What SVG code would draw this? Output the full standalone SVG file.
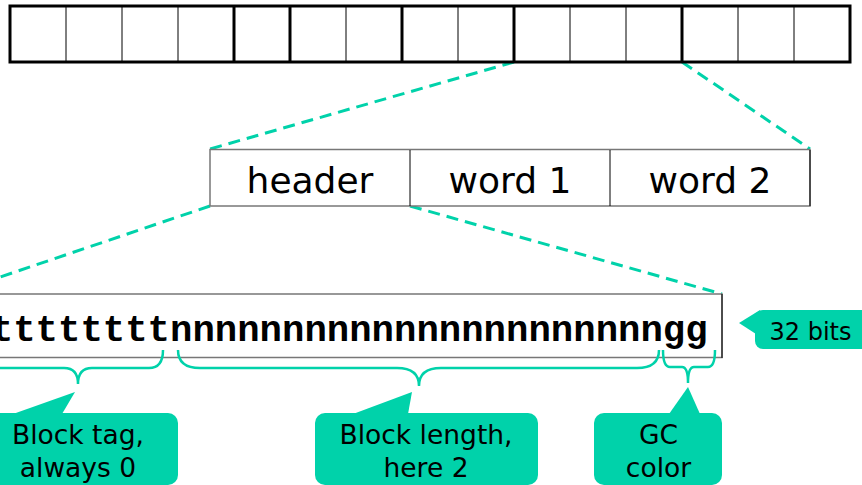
<svg xmlns="http://www.w3.org/2000/svg" width="862" height="485" viewBox="0 0 862 485">
<style>
.dash{fill:none;stroke:#00D2AA;stroke-width:3;stroke-dasharray:12 7}
.thin{stroke:#000;stroke-width:1}
.thick{stroke:#000;stroke-width:3}
.lbl{font-family:"DejaVu Sans",Verdana,sans-serif;font-size:36px;fill:#000;text-anchor:middle}
.call{fill:#00D2AA}
.ct{font-family:"DejaVu Sans",Verdana,sans-serif;font-size:26.5px;fill:#000;text-anchor:middle}
.brace{fill:none;stroke:#00D2AA;stroke-width:2.5}
.bits{font-family:"Liberation Mono","Courier New",monospace;font-weight:bold;font-size:37.33px;fill:#000}
</style>
<rect width="862" height="485" fill="#fff"/>
<g id="connectors">
<line class="dash" x1="514" y1="62" x2="210" y2="149"/>
<line class="dash" x1="682" y1="62" x2="810" y2="149"/>
<line class="dash" x1="210" y1="206" x2="-50" y2="294"/>
<line class="dash" x1="410" y1="206" x2="722" y2="294"/>
</g>
<g id="memory">
<rect x="10" y="6" width="840" height="56" fill="#fff" stroke="#000" stroke-width="3"/>
<g class="thin">
<line x1="66" y1="6" x2="66" y2="62"/><line x1="122" y1="6" x2="122" y2="62"/><line x1="178" y1="6" x2="178" y2="62"/>
<line x1="346" y1="6" x2="346" y2="62"/><line x1="458" y1="6" x2="458" y2="62"/><line x1="570" y1="6" x2="570" y2="62"/>
<line x1="626" y1="6" x2="626" y2="62"/><line x1="738" y1="6" x2="738" y2="62"/><line x1="794" y1="6" x2="794" y2="62"/>
</g>
<g class="thick">
<line x1="234" y1="6" x2="234" y2="62"/><line x1="290" y1="6" x2="290" y2="62"/><line x1="402" y1="6" x2="402" y2="62"/>
<line x1="514" y1="6" x2="514" y2="62"/><line x1="682" y1="6" x2="682" y2="62"/>
</g>
</g>
<g id="block">
<rect x="210" y="149.5" width="600" height="56.5" fill="#fff" stroke="#777" stroke-width="1.5"/>
<line class="thin" x1="410" y1="150" x2="410" y2="206"/>
<line class="thin" x1="610" y1="150" x2="610" y2="206"/>
<line class="thin" x1="810" y1="150" x2="810" y2="206"/>
<text class="lbl" x="310" y="193">header</text>
<text class="lbl" x="510" y="193">word 1</text>
<text class="lbl" x="710" y="193">word 2</text>
</g>
<g id="headerword">
<rect x="-60" y="294" width="782" height="63.5" fill="#fff" stroke="#777" stroke-width="1.5"/>
<line class="thin" x1="722" y1="294" x2="722" y2="358"/>
<text class="bits" x="-9.2" y="341">ttttttttnnnnnnnnnnnnnnnnnnnnnngg</text>
</g>
<g id="braces">
<path class="brace" d="M-20,350 Q-20,368 -6,368 L64,368 Q78,368 78,384 Q78,368 92,368 L149,368 Q163,368 163,350"/>
<path class="brace" d="M178,350 Q178,368 200,368 L397,368 Q419,368 419,386 Q419,368 441,368 L637,368 Q659,368 659,350"/>
<path class="brace" d="M663,350 Q663,367 670,367 L682,367 Q688,367 688,383 Q688,367 694,367 L708,367 Q715,367 715,350"/>
</g>
<g id="tag">
<rect class="call" x="-22" y="413" width="200" height="72" rx="10"/>
<polygon class="call" points="13,414 75,392 62,414"/>
<text class="ct" x="78" y="444">Block tag,</text>
<text class="ct" x="78" y="477">always 0</text>
</g>
<g id="length">
<rect class="call" x="315" y="413" width="223" height="72" rx="10"/>
<polygon class="call" points="353,414 412,392 408,414"/>
<text class="ct" x="426" y="444">Block length,</text>
<text class="ct" x="426" y="477">here 2</text>
</g>
<g id="color">
<rect class="call" x="594" y="413" width="128" height="72" rx="10"/>
<polygon class="call" points="669,414 688,387 700,414"/>
<text class="ct" x="658.5" y="444">GC</text>
<text class="ct" x="658.5" y="477">color</text>
</g>
<g id="size">
<rect class="call" x="755" y="310" width="125" height="39" rx="8"/>
<polygon class="call" points="760,310 739,323 756,334"/>
<text class="ct" x="810.5" y="340" style="font-size:24px">32 bits</text>
</g>
</svg>
